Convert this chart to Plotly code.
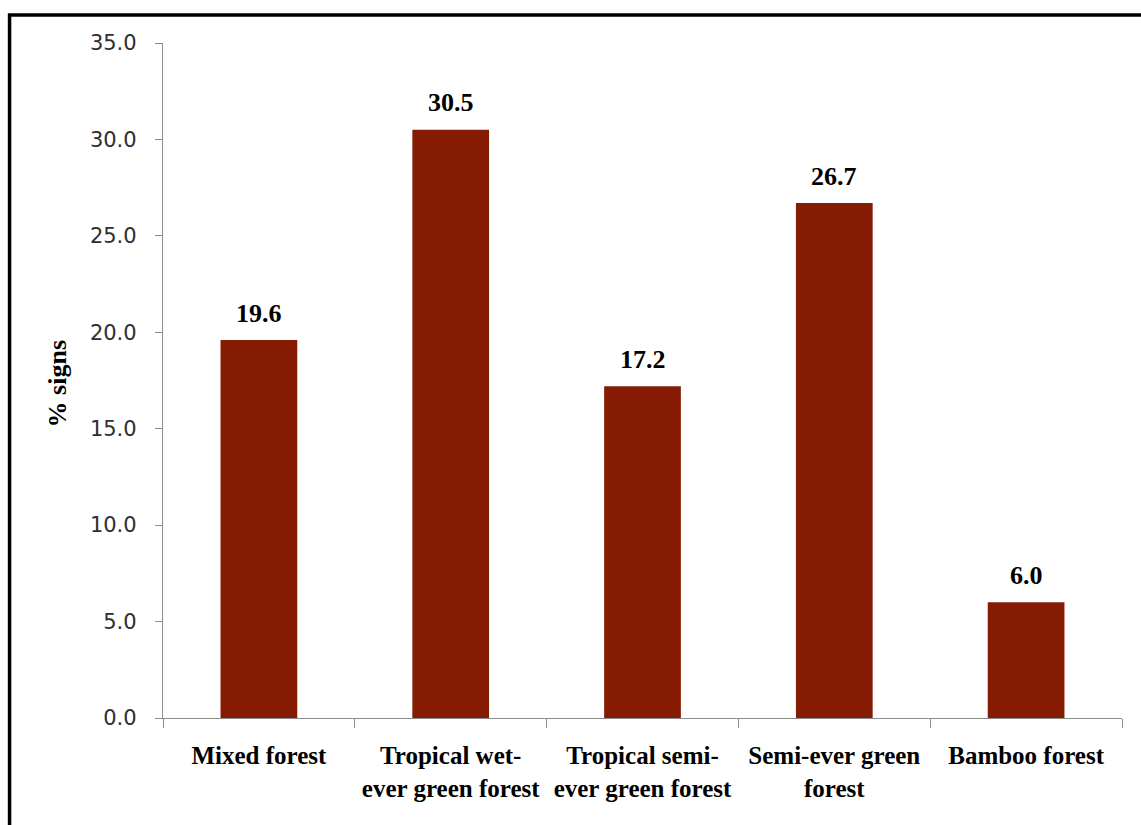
import plotly.graph_objects as go

# Forest types and share of signs recorded in each (%)
categories = [
    "Mixed forest",
    "Tropical wet-<br>ever green forest",
    "Tropical semi-<br>ever green forest",
    "Semi-ever green<br>forest",
    "Bamboo forest",
]
signs_pct = [19.6, 30.5, 17.2, 26.7, 6.0]
y_ticks = [0, 5, 10, 15, 20, 25, 30, 35]

BAR_COLOR = "rgb(133,27,3)"
AXIS_GREY = "#8c8c8c"
SERIF = "Liberation Serif, Times New Roman, serif"

fig = go.Figure(
    go.Bar(
        x=categories,
        y=signs_pct,
        marker=dict(color=BAR_COLOR, line=dict(width=0)),
        hoverinfo="skip",
    )
)

# value labels above the bars
for cat, val in zip(categories, signs_pct):
    fig.add_annotation(
        x=cat, y=val, xref="x", yref="y",
        text=f"<b>{val:.1f}</b>",
        showarrow=False, yanchor="middle", yshift=27,
        font=dict(family=SERIF, size=26, color="black"),
    )

# rotated axis title
fig.add_annotation(
    x=-0.110, y=0.495, xref="paper", yref="paper",
    xanchor="center", yanchor="middle",
    text="<b>% signs</b>", textangle=-90, showarrow=False,
    font=dict(family=SERIF, size=26, color="black"),
)

# outer frame of the figure
fig.add_shape(
    type="rect", xref="paper", yref="paper",
    x0=-0.160, x1=1.2, y0=-0.5, y1=1.0415,
    line=dict(color="black", width=3.5), fillcolor="rgba(0,0,0,0)",
    layer="above",
)

fig.update_layout(
    width=1141, height=825,
    margin=dict(l=163, r=19, t=43, b=107),
    plot_bgcolor="white", paper_bgcolor="white",
    bargap=0.6, showlegend=False,
    xaxis=dict(
        type="category", automargin=False, tickangle=0,
        showline=True, linecolor=AXIS_GREY, linewidth=1.3,
        ticks="outside", tickson="boundaries", ticklen=9,
        tickcolor=AXIS_GREY, tickwidth=1.3,
        tickfont=dict(family=SERIF, size=25, color="black"),
        ticklabelstandoff=15,
        showgrid=False, zeroline=False,
        tickprefix="<b>", ticksuffix="</b>",
    ),
    yaxis=dict(
        range=[0, 35], automargin=False,
        tickvals=y_ticks,
        ticktext=[f"{v:.1f}" for v in y_ticks],
        showline=True, linecolor=AXIS_GREY, linewidth=1.3,
        ticks="outside", ticklen=7, tickcolor=AXIS_GREY, tickwidth=1.3,
        tickfont=dict(family="DejaVu Sans", size=21, color="#2e2e2e"),
        ticklabelstandoff=14,
        showgrid=False, zeroline=False,
    ),
)

fig.write_html("out.html")
